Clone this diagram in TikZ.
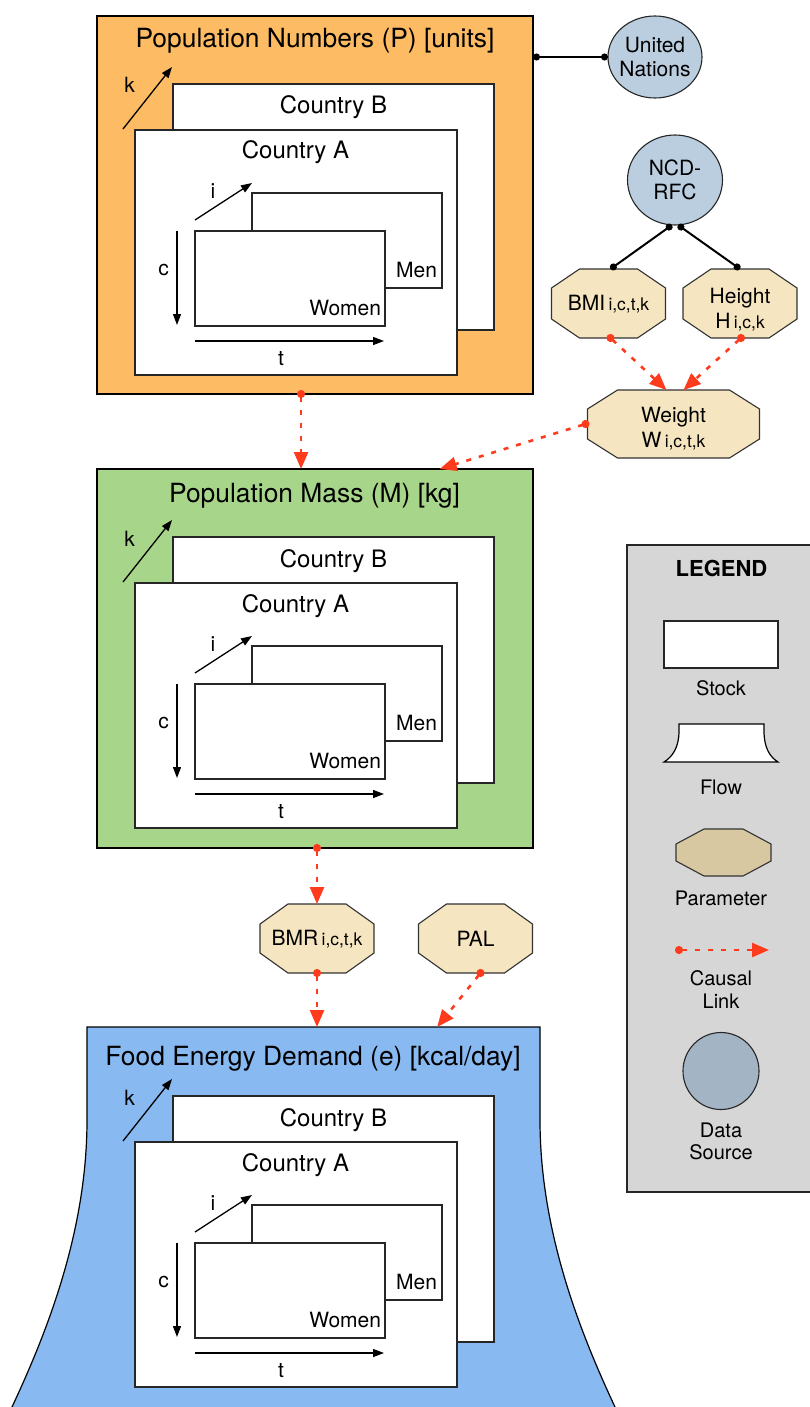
\documentclass[tikz,border=0pt]{standalone}
\usepackage{fontspec}
\setmainfont{TeX Gyre Heros}
\usetikzlibrary{arrows.meta,shapes.geometric,calc}

\definecolor{popOrange}{HTML}{FDBB63}
\definecolor{massGreen}{HTML}{A7D58A}
\definecolor{energyBlue}{HTML}{88B9F1}
\definecolor{legendGray}{HTML}{D6D6D6}
\definecolor{paramFill}{HTML}{F5E5C0}
\definecolor{paramLegend}{HTML}{D7C8A1}
\definecolor{sourceFill}{HTML}{BBCEDF}
\definecolor{sourceLegend}{HTML}{A3B4C4}
\definecolor{causalRed}{HTML}{FF3B1E}

\newcommand\fs[1]{\fontsize{#1}{#1}\selectfont}
\newcommand\idx[1]{\kern3.3pt{\fontsize{17.4}{17.4}\selectfont #1}}

\tikzset{
  every node/.style={inner sep=0pt, outer sep=0pt},
  stockbox/.style={draw=black, line width=1.2pt, fill=#1, anchor=north west},
  sheet/.style={draw=black!85, line width=1.1pt, fill=white, anchor=north west},
  dimarrow/.style={line width=1.3pt, -{Triangle[length=11pt,width=8pt]}},
  dimlabel/.style={font=\fs{21}, anchor=base},
  ctitle/.style={font=\fs{24}, anchor=base},
  btitle/.style={font=\fs{26.4}, anchor=base},
  legendtext/.style={font=\fs{20}, anchor=base},
  paramslot/.style={minimum width=114pt, minimum height=69pt},
  paramtext/.style={font=\fontsize{21}{24.5}\selectfont, align=center},
  octline/.style={draw=black!80, line width=1.1pt},
  source/.style={ellipse, draw=black!85, line width=1.1pt, fill=sourceFill,
    inner xsep=-3pt, font=\fontsize{21}{24}\selectfont, align=center},
  causal/.style={causalRed, line width=2.6pt, dash pattern=on 5pt off 8pt,
    {Circle[length=8pt,width=8pt]}-{Triangle[length=17pt,width=14pt]},
    shorten <=-4pt},
  datalink/.style={line width=2pt, {Circle[length=7pt]}-{Circle[length=7pt]}},
}

% Octagon drawn over the rectangle of node #1: corner cuts #2 (across) and #3 (down), fill #4
\newcommand\octagon[4]{%
  \filldraw[octline, fill=#4]
    ([xshift=#2]#1.north west) -- ([xshift=-#2]#1.north east)
    -- ([yshift=-#3]#1.north east) -- ([yshift=#3]#1.south east)
    -- ([xshift=-#2]#1.south east) -- ([xshift=#2]#1.south west)
    -- ([yshift=#3]#1.south west) -- ([yshift=-#3]#1.north west) -- cycle;}

% Two stacked country sheets with the women/men layers and the i, c, t, k axes.
% #1: top of the enclosing block, #2: prefix for node names
\newcommand\countrystack[2]{%
  \begin{scope}[shift={(0,#1)}]
    \draw[dimarrow] (123,113) -- (172,51);
    \node[dimlabel] (#2k) at (129.5,77) {k};
    \node[sheet, minimum width=321pt, minimum height=246pt] (#2B) at (173,68) {};
    \node[ctitle] (#2Bt) at (333.5,98) {Country B};
    \node[sheet, minimum width=322pt, minimum height=245pt] (#2A) at (135,114) {};
    \node[ctitle] (#2At) at (295.5,143) {Country A};
    \draw[dimarrow] (195,204) -- (252,167);
    \node[dimlabel] (#2i) at (213,182) {i};
    \node[sheet, minimum width=190pt, minimum height=95pt] (#2men) at (252,177) {};
    \node[dimlabel, anchor=base east] (#2ment) at (437,261) {Men};
    \node[sheet, minimum width=190pt, minimum height=95pt] (#2women) at (195,215) {};
    \node[dimlabel, anchor=base east] (#2wt) at (381,299) {Women};
    \draw[dimarrow] (177,215) -- (177,309);
    \node[dimlabel] (#2c) at (163.5,259) {c};
    \draw[dimarrow] (195,325) -- (384,325);
    \node[dimlabel] (#2t) at (281,349) {t};
  \end{scope}}

\begin{document}
\begin{tikzpicture}[x=1pt, y=-1pt]
\useasboundingbox (0,0) rectangle (810,1407);
\clip (0,0) rectangle (810,1407);

% ---------- stocks ----------
\node[stockbox=popOrange, minimum width=436pt, minimum height=378pt] (popN) at (97,16) {};
\node[btitle] (popNt) at (315,48) {Population Numbers (P) [units]};
\countrystack{16}{n}

\node[stockbox=massGreen, minimum width=436pt, minimum height=379pt] (popM) at (97,469) {};
\node[btitle] (popMt) at (314.5,502) {Population Mass (M) [kg]};
\countrystack{469}{m}

% ---------- flow ----------
\node[minimum width=453pt, minimum height=380pt, anchor=north west] (demand) at (87,1027) {};
\draw[line width=1.2pt, fill=energyBlue]
  (87,1027) -- (540,1027) -- (540,1120)
  .. controls (540,1230) and (579,1330) .. (615,1407) -- (630,1440)
  -- (-3,1440) -- (12,1407)
  .. controls (48,1330) and (87,1230) .. (87,1120) -- cycle;
\node[btitle] (demandt) at (313,1065) {Food Energy Demand (e) [kcal/day]};
\countrystack{1028}{e}

% ---------- data sources ----------
\node[source, minimum width=94pt, minimum height=82pt] (un) at (655,57) {United\\Nations};
\node[source, minimum width=95pt, minimum height=90pt] (ncd) at (675,180) {NCD-\\RFC};

% ---------- parameters ----------
\node[paramslot] (bmi) at (608.5,303.5) {};
\octagon{bmi}{28pt}{19pt}{paramFill}
\node[paramtext] (bmit) at ([yshift=-1pt]bmi.center) {BMI\idx{i,c,t,k}};

\node[paramslot] (height) at (740,303.5) {};
\octagon{height}{28pt}{19pt}{paramFill}
\node[paramtext] (heightt) at ([yshift=-6pt]height.center) {Height\\H\idx{i,c,k}};

\node[paramslot, minimum width=172pt, minimum height=68pt] (weight) at (673.5,424) {};
\octagon{weight}{30pt}{19pt}{paramFill}
\node[paramtext] (weightt) at ([yshift=-4.5pt]weight.center) {Weight\\W\idx{i,c,t,k}};

\node[paramslot] (bmr) at (317,938.5) {};
\octagon{bmr}{28pt}{20pt}{paramFill}
\node[paramtext] (bmrt) at ([yshift=-1pt]bmr.center) {BMR\idx{i,c,t,k}};

\node[paramslot] (pal) at (475.5,938.5) {};
\octagon{pal}{28pt}{20pt}{paramFill}
\node[paramtext] (palt) at (pal.center) {PAL};

% ---------- data links ----------
\draw[datalink] (popN.east |- un.west) -- (un.west);
\draw[datalink] ([xshift=-3pt]ncd.south) -- ([xshift=2pt]bmi.north);
\draw[datalink] ([xshift=3pt]ncd.south) -- (height.north);

% ---------- causal links ----------
\draw[causal] ($(popN.south west)!0.468!(popN.south east)$) -- ($(popM.north west)!0.468!(popM.north east)$);
\draw[causal] ([xshift=2pt]bmi.south) -- ([xshift=-7pt]weight.north);
\draw[causal] ([xshift=1pt]height.south) -- ([xshift=10pt]weight.north);
\draw[causal] ([xshift=-2pt]weight.west) -- ($(popM.north west)!0.786!(popM.north east)$);
\draw[causal] (popM.south -| bmr.north) -- (bmr.north);
\draw[causal] (bmr.south) -- (demand.north -| bmr.south);
\draw[causal] ([xshift=5pt]pal.south) -- ($(demand.north west)!0.773!(demand.north east)$);

% ---------- legend ----------
\node[draw=black!85, line width=1.2pt, fill=legendGray, minimum width=203pt,
      minimum height=647pt, anchor=north west] (legend) at (627,545) {};
\node[font=\bfseries\fs{22}, anchor=base] (legendt) at (721.5,576) {LEGEND};
\node[sheet, minimum width=114pt, minimum height=47pt] (lstock) at (664,621) {};
\node[legendtext] (lstockt) at (721,695) {Stock};
\draw[line width=1.2pt, fill=white]
  (679,724) -- (764,724) -- (764,731)
  .. controls (764,748) and (770,757) .. (778,762) -- (664,762)
  .. controls (672,757) and (679,748) .. (679,731) -- cycle;
\node[legendtext] (lflowt) at (721,794) {Flow};
\node[minimum width=95pt, minimum height=47pt] (lparam) at (723.5,852.5) {};
\octagon{lparam}{28pt}{15pt}{paramLegend}
\node[legendtext] (lparamt) at (721,905) {Parameter};
\coordinate (lc1) at (679,950);
\coordinate (lc2) at (769,950);
\draw[causal] (lc1) -- (lc2);
\node[legendtext] (lcausal) at (721,985) {Causal};
\node[legendtext] (llink) at (721,1008) {Link};
\node[source, fill=sourceLegend, inner xsep=0pt, minimum width=76pt, minimum height=77pt] (lsource) at (721,1071) {};
\node[legendtext] (ldata) at (721,1137) {Data};
\node[legendtext] (lsrc) at (721,1159) {Source};
\end{tikzpicture}
\end{document}
